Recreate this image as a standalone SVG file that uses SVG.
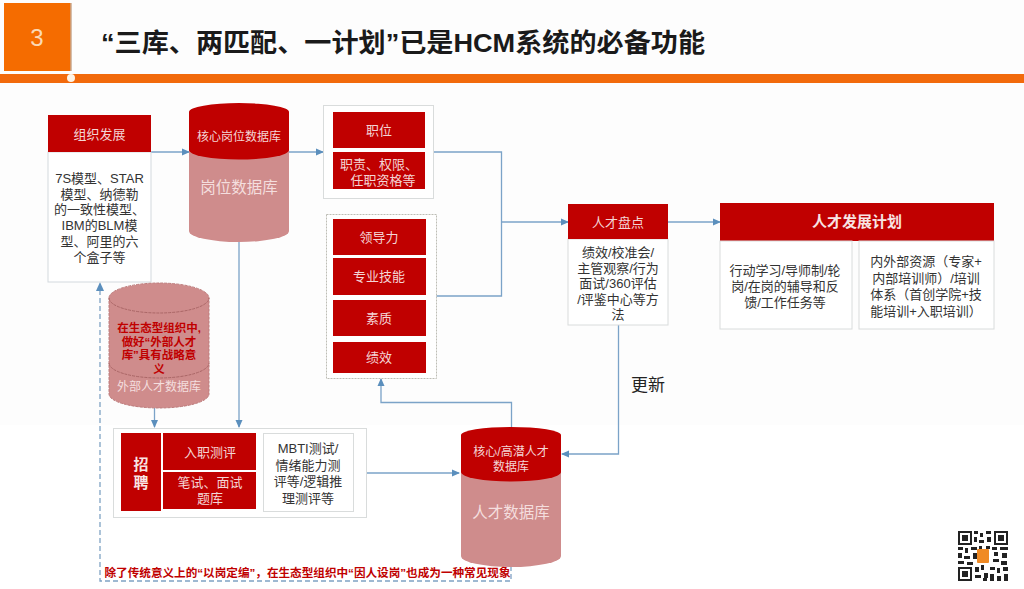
<svg xmlns="http://www.w3.org/2000/svg" width="1024" height="589" viewBox="0 0 1024 589">
<style>
text{font-family:"Liberation Sans","Noto Sans CJK SC",sans-serif;text-anchor:middle}
.r{fill:#c00000}
.p{fill:#cf8c8c}
.w{fill:#fff;stroke:#d3d9de;stroke-width:1}
.o{fill:#fff;stroke:#d9dcdc;stroke-width:1}
.d{fill:#fff;stroke:#bdbdb5;stroke-width:1;stroke-dasharray:2 1}
.lt{fill:#f4d5d5;font-size:13px}
.dk{fill:#333;font-size:13px}
.c{fill:none;stroke:#7ba3c8;stroke-width:1.3}
.da{fill:none;stroke:#7fa3c4;stroke-width:1.3;stroke-dasharray:5 3}
.rb{fill:#c00000;font-size:11.5px;font-weight:700}
</style>
<defs>
<marker id="a" markerWidth="9" markerHeight="8" refX="7" refY="4" orient="auto" markerUnits="userSpaceOnUse"><path d="M0,0.5L8,4L0,7.5Z" fill="#5b8fbd"/></marker>
</defs>
<rect width="1024" height="589" fill="#fff"/>
<rect width="1024" height="425" fill="#fdfdfd"/>
<g id="header">
<rect x="4" y="3" width="67" height="68" fill="#f56c00"/>
<path d="M71,3V71" stroke="#c9a98f" stroke-width="1.500"/>
<text x="37" y="46" font-size="24" style="fill:#fbd9b5">3</text>
<rect x="0" y="74" width="1024" height="9" fill="#f26a0c"/>
<circle cx="71" cy="78" r="4" fill="#fdf3e6"/>
<text x="403" y="52" font-size="26" font-weight="700" fill="#1a1a1a" textLength="604" lengthAdjust="spacingAndGlyphs">“三库、两匹配、一计划”已是HCM系统的必备功能</text>
</g>
<g id="connectors">
<path class="c" marker-end="url(#a)" d="M151,152H189"/>
<path class="c" marker-end="url(#a)" d="M289,152H323"/>
<path class="c" d="M433,152H501.500V296H436"/>
<path class="c" marker-end="url(#a)" d="M501.500,222H568"/>
<path class="c" marker-end="url(#a)" d="M668,222H720"/>
<path class="c" marker-end="url(#a)" d="M618.500,325V454H562"/>
<path class="c" marker-end="url(#a)" d="M511.500,427V402.500H381V379"/>
<path class="c" marker-end="url(#a)" d="M366,473H459"/>
<path class="c" marker-end="url(#a)" d="M239,242V427"/>
<path class="c" marker-end="url(#a)" d="M154.500,408V427"/>
<path class="da" d="M511,566V581H100V291"/>
<path d="M96,291L100,282L104,291Z" fill="#5b8fbd"/>
</g>
<g id="org-dev">
<rect class="w" x="48" y="152" width="103" height="130"/>
<rect class="r" x="48" y="115" width="103" height="37"/>
<text class="lt" x="99.500" y="139">组织发展</text>
<text class="dk"><tspan x="99.500" y="183">7S模型、STAR</tspan><tspan x="99.500" dy="15.700">模型、纳德勒</tspan><tspan x="99.500" dy="15.700">的一致性模型、</tspan><tspan x="99.500" dy="15.700">IBM的BLM模</tspan><tspan x="99.500" dy="15.700">型、阿里的六</tspan><tspan x="99.500" dy="15.700">个盒子等</tspan></text>
</g>
<g id="position-db">
<path class="p" d="M189,150V231A50,11 0 0 0 289,231V150Z"/>
<path class="r" d="M189,112A50,9 0 0 1 289,112V150A50,9.500 0 0 1 189,150Z"/>
<text x="239" y="141" font-size="12" fill="#f4d5d5">核心岗位数据库</text>
<text x="239" y="193" font-size="15.500" fill="#f4dede">岗位数据库</text>
</g>
<g id="position">
<rect class="o" x="323.500" y="105.500" width="110" height="93"/>
<rect class="r" x="333" y="112" width="92" height="36"/>
<rect class="r" x="333" y="152" width="92" height="37"/>
<text class="lt" x="379" y="135">职位</text>
<text class="lt"><tspan x="379" y="169">职责、权限、</tspan><tspan x="383" dy="16">任职资格等</tspan></text>
</g>
<g id="competency">
<rect class="d" x="326.500" y="214.500" width="110" height="164"/>
<rect class="r" x="333" y="219" width="93" height="36"/>
<rect class="r" x="333" y="258" width="93" height="37"/>
<rect class="r" x="333" y="300" width="93" height="36"/>
<rect class="r" x="333" y="342" width="93" height="31"/>
<text class="lt" x="379" y="242">领导力</text>
<text class="lt" x="379" y="281">专业技能</text>
<text class="lt" x="379" y="323">素质</text>
<text class="lt" x="379" y="362">绩效</text>
</g>
<g id="talent-review">
<rect class="o" x="568" y="239" width="100" height="86"/>
<rect class="r" x="568" y="204" width="100" height="35"/>
<text class="lt" x="618" y="227">人才盘点</text>
<text class="dk"><tspan x="618" y="257">绩效/校准会/</tspan><tspan x="618" dy="15.500">主管观察/行为</tspan><tspan x="618" dy="15.500">面试/360评估</tspan><tspan x="618" dy="15.500">/评鉴中心等方</tspan><tspan x="618" dy="15.500">法</tspan></text>
</g>
<g id="dev-plan">
<rect class="r" x="720" y="203" width="274" height="38"/>
<text x="857" y="227" font-size="15" font-weight="700" fill="#f8e4e4">人才发展计划</text>
<rect class="o" x="720" y="241" width="132" height="88"/>
<rect class="o" x="859" y="241" width="135" height="88"/>
<text class="dk"><tspan x="785" y="275">行动学习/导师制/轮</tspan><tspan x="785" dy="16">岗/在岗的辅导和反</tspan><tspan x="785" dy="16">馈/工作任务等</tspan></text>
<text class="dk"><tspan x="926" y="266">内外部资源（专家+</tspan><tspan x="926" dy="16.700">内部培训师）/培训</tspan><tspan x="926" dy="16.700">体系（首创学院+技</tspan><tspan x="926" dy="16.700">能培训+入职培训）</tspan></text>
</g>
<g id="update-label">
<text x="648" y="391" font-size="17" fill="#222">更新</text>
</g>
<g id="external-db">
<path d="M109,298A50,15 0 0 1 209,298V394A50,14 0 0 1 109,394Z" fill="#cf8c8c" stroke="#bd7b7b" stroke-width="1" stroke-dasharray="3 1"/>
<path d="M109,298A50,15 0 0 0 209,298M109,363A50,15 0 0 0 209,363" fill="none" stroke="#a66" stroke-width="1" stroke-dasharray="3 1"/>
<text class="rb"><tspan x="159" y="332">在生态型组织中,</tspan><tspan x="159" dy="13.500">做好“外部人才</tspan><tspan x="159" dy="13.500">库”具有战略意</tspan><tspan x="159" dy="13.500">义</tspan></text>
<text x="159" y="391" font-size="12" fill="#f4dede">外部人才数据库</text>
</g>
<g id="recruit">
<rect class="o" x="113.500" y="428.500" width="253" height="89"/>
<rect class="r" x="121" y="433" width="40" height="78"/>
<rect class="r" x="163" y="433" width="93" height="37"/>
<rect class="r" x="163" y="472" width="93" height="37"/>
<rect class="o" x="263.500" y="433.500" width="90" height="78"/>
<text font-size="15" font-weight="700" fill="#f8e4e4"><tspan x="141" y="470">招</tspan><tspan x="141" dy="18">聘</tspan></text>
<text class="lt" x="210" y="457">入职测评</text>
<text class="lt"><tspan x="210" y="487">笔试、面试</tspan><tspan x="210" dy="16">题库</tspan></text>
<text class="dk"><tspan x="308" y="453">MBTI测试/</tspan><tspan x="308" dy="16.600">情绪能力测</tspan><tspan x="308" dy="16.600">评等/逻辑推</tspan><tspan x="308" dy="16.600">理测评等</tspan></text>
</g>
<g id="talent-db">
<path class="p" d="M461,472V556A50,11 0 0 0 561,556V472Z"/>
<path class="r" d="M461,435A50,8 0 0 1 561,435V472A50,9.500 0 0 1 461,472Z"/>
<text font-size="12" fill="#f4d5d5"><tspan x="511" y="456">核心/高潜人才</tspan><tspan x="511" dy="15">数据库</tspan></text>
<text x="511" y="518" font-size="15.500" fill="#f4dede">人才数据库</text>
</g>
<g id="footnote">
<text x="307.500" y="577" class="rb" textLength="406" lengthAdjust="spacingAndGlyphs">除了传统意义上的“以岗定编”，在生态型组织中“因人设岗”也成为一种常见现象</text>
</g>
<g id="qr">
<rect x="958" y="531" width="50" height="50" fill="#fff"/>
<path fill="#222" d="M958,531h14v14h-14zM994,531h14v14h-14zM958,567h14v14h-14z"/>
<path fill="#fff" d="M960,533h10v10h-10zM996,533h10v10h-10zM960,569h10v10h-10z"/>
<path fill="#222" d="M962,535h6v6h-6zM998,535h6v6h-6zM962,571h6v6h-6zM974,531h4v3h-4zM980,533h3v4h-3zM986,531h5v3h-5zM974,537h3v5h-3zM979,540h5v3h-5zM987,537h4v5h-4zM958,547h5v3h-5zM965,548h3v5h-3zM971,547h6v3h-6zM958,553h4v5h-4zM964,556h6v3h-6zM973,553h4v6h-4zM992,547h5v3h-5zM1000,547h8v3h-8zM994,552h4v4h-4zM1002,553h5v5h-5zM993,559h6v3h-6zM1001,561h6v4h-6zM958,561h6v3h-6zM967,562h6v3h-6zM975,567h4v5h-4zM981,565h3v5h-3zM975,575h6v3h-6zM984,573h4v5h-4zM990,567h5v3h-5zM997,568h3v5h-3zM1003,567h5v4h-5zM990,574h4v7h-4zM997,576h4v5h-4zM1004,574h4v7h-4zM979,546h3v3h-3zM986,546h4v3h-4zM983,578h4v3h-4z"/>
<rect x="977" y="549" width="12" height="14" rx="1" fill="#f08a24"/>
</g>
</svg>
